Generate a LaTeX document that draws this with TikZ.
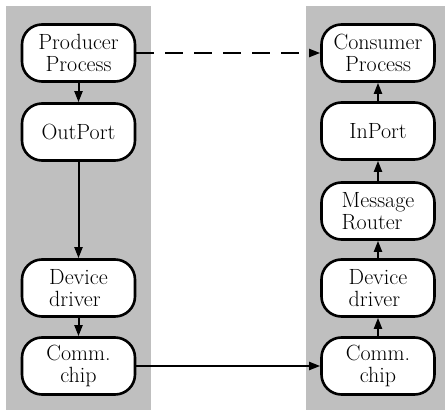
\documentclass[tikz,border=0pt]{standalone}
\usetikzlibrary{arrows.meta}

\tikzset{
  layer/.style={draw,line width=2.6pt,fill=white,rounded corners=20pt,
    minimum width=113pt,minimum height=57pt,inner sep=1pt,
    font=\rmfamily\fontsize{22}{22}\selectfont,align=center},
  flow/.style={line width=2pt,-{Triangle[length=11pt,width=8pt]}}
}

\begin{document}
\begin{tikzpicture}[x=1pt,y=-1pt]
  \useasboundingbox (0,0) rectangle (445,412);
  \fill[black!25] (6,6) rectangle (151,410); %
  \fill[black!25] (306,6) rectangle (445,410); %

  % sending side
  \node[layer] (prod) at (78.5,53) {Producer\\Process};
  \node[layer] (outp) at (78.5,132) {OutPort};
  \node[layer,align=left] (devl) at (78.5,288) {Device\\driver};
  \node[layer] (chipl) at (78.5,366) {Comm.\\chip};

  % receiving side
  \node[layer] (cons) at (378,53) {Consumer\\Process};
  \node[layer] (inp) at (378,131) {InPort};
  \node[layer,align=left] (rout) at (378,211) {Message\\Router};
  \node[layer,align=left] (devr) at (378,288) {Device\\driver};
  \node[layer] (chipr) at (378,366) {Comm.\\chip};

  \draw[flow] (prod) -- (outp);
  \draw[flow] (outp) -- (devl);
  \draw[flow] (devl) -- (chipl);
  \draw[flow] (chipl.east) -- (chipr.west);
  \draw[flow] (chipr) -- (devr);
  \draw[flow] (devr) -- (rout);
  \draw[flow] (rout) -- (inp);
  \draw[flow] (inp) -- (cons);
  \draw[flow,dash pattern=on 18pt off 11pt] (prod.east) -- (cons.west);

\end{tikzpicture}
\end{document}
